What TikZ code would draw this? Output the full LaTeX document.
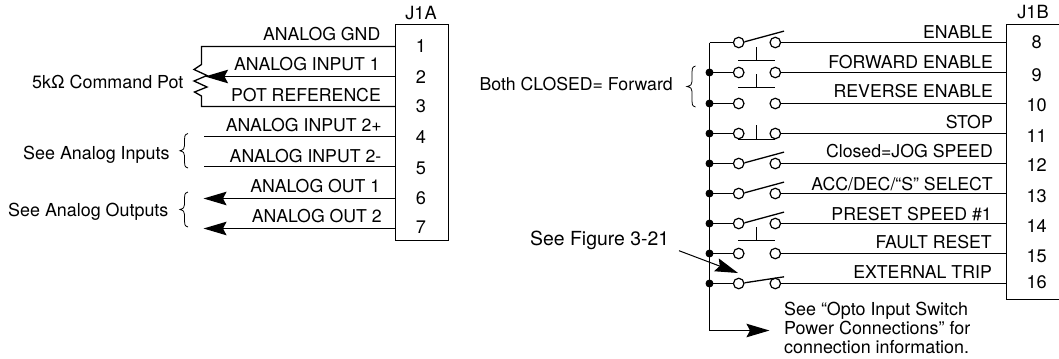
\documentclass[tikz,border=0pt]{standalone}
\usepackage{fontspec}
\setmainfont{TeX Gyre Heros}
\usetikzlibrary{arrows.meta}
\tikzset{
  wire/.style={line width=1.3bp,line cap=butt},
  thin wire/.style={line width=0.8bp},
  lab/.style={anchor=base east,inner sep=0pt,font=\fontsize{17.7bp}{20bp}\selectfont},
  note/.style={anchor=base west,inner sep=0pt,font=\fontsize{17.9bp}{20bp}\selectfont},
  pin/.style={anchor=base,inner sep=0pt,font=\fontsize{18.2bp}{20bp}\selectfont},
  term/.style={circle,draw,fill=white,line width=1.2bp,minimum size=10.5bp,inner sep=0pt},
  dot/.style={circle,fill=black,minimum size=8bp,inner sep=0pt},
  bigarrow/.style={-{Stealth[length=23bp,width=13.5bp,inset=3.5bp]}},
}
\newcommand{\curlybrace}[4]{% tip x, spine x, top y, bottom y
  \pgfmathsetmacro{\ym}{(#3+#4)/2}
  \pgfmathsetmacro{\xe}{#2+3.5}
  \draw[thin wire] (\xe,#3) .. controls (#2,#3+1) and (#2,#3+3) .. (#2,#3+6)
    -- (#2,\ym-5) .. controls (#2,\ym-2) and (#2-1,\ym-1) .. (#1,\ym)
    .. controls (#2-1,\ym+1) and (#2,\ym+2) .. (#2,\ym+5)
    -- (#2,#4-6) .. controls (#2,#4-3) and (#2,#4-1) .. (\xe,#4);
}
\begin{document}
\begin{tikzpicture}[x=1bp,y=-1bp]
\useasboundingbox (0,0) rectangle (1059,358);
% ---- J1A
\node[draw,line width=1.3bp,minimum width=53bp,minimum height=216bp,inner sep=0pt,outer sep=0pt] (boxA) at (422,132.5) {};
\node[pin] (titleA) at (421,19.3) {J1A};
\foreach \n/\y in {1/52.7,2/83,3/112.7,4/143.3,5/174,6/204,7/233}
  \node[pin] (numA\n) at (421,\y) {\n};
\foreach \n/\y in {1/46.5,2/76.5,3/106.5,4/136.5,5/166.5,6/198.5,7/228.5}
  \coordinate (a\n) at (boxA.west |- 0,\y);
\node[lab] (la1) at (380.5,40.7) {ANALOG GND};
\node[lab] (la2) at (380,70.7) {ANALOG INPUT 1};
\node[lab] (la3) at (381,101) {POT REFERENCE};
\node[lab] (la4) at (382,131.7) {ANALOG INPUT 2+};
\node[lab] (la5) at (381.5,162) {ANALOG INPUT 2-};
\node[lab] (la6) at (380.5,192.7) {ANALOG OUT 1};
\node[lab] (la7) at (382,222.7) {ANALOG OUT 2};
% pot
\coordinate (potT) at (201.5,46.5);
\coordinate (potB) at (201.5,106.5);
\coordinate (potW) at (205,76.5);
\draw[wire,line join=miter] (a1) -- (potT) -- (201.5,64.5) -- (194,69.5) -- (207,75.5) -- (194,81) -- (207,87) -- (194.5,92) -- (201.5,96) -- (potB) -- (a3);
\draw[wire,bigarrow] (a2) -- (potW);
\coordinate (e4) at (204,136.5);
\coordinate (e5) at (204,166.5);
\coordinate (e6) at (203.5,198.5);
\coordinate (e7) at (203.5,228.5);
\draw[wire] (a4) -- (e4);
\draw[wire] (a5) -- (e5);
\draw[wire,bigarrow] (a6) -- (e6);
\draw[wire,bigarrow] (a7) -- (e7);
\node[note] (potlab) at (32,88) {5kΩ Command Pot};
\node[note] (inlab) at (23,159) {See Analog Inputs};
\node[note] (outlab) at (8,216) {See Analog Outputs};
\curlybrace{180}{184.5}{133.5}{168}
\curlybrace{180}{184.5}{192}{227}
% ---- J1B
\coordinate (bxTR) at (1059,24.5);
\coordinate (bxTL) at (1006.5,24.5);
\coordinate (bxBL) at (1006.5,299.5);
\coordinate (bxBR) at (1059,299.5);
\draw[wire] (bxTR) -- (bxTL) -- (bxBL) -- (bxBR);
\node[pin] (titleB) at (1033,18.3) {J1B};
\foreach \n/\y in {8/48,9/81.7,10/111.7,11/142,12/171.7,13/202.3,14/232.3,15/262.7,16/288.3}
  \node[pin] (numB\n) at (1036.7,\y) {\n};
% rows
\coordinate (busT) at (709.5,42.5);
\coordinate (busB) at (709.5,330.5);
\coordinate (busE) at (769.5,330.5);
\draw[wire,line join=miter] (busT) -- (busB);
\draw[wire,bigarrow] (busB) -- (busE);
\foreach \n/\y in {8/42.5,9/72.5,10/103.5,11/133.5,12/163.5,13/193.5,14/223.5,15/253.5,16/283.5}{
  \coordinate (b\n) at (709.5,\y);
  \node[term] (l\n) at (738.7,\y) {};
  \node[term] (r\n) at (775.3,\y) {};
  \coordinate (p\n) at (1006.5,\y);
  \draw[wire] (b\n) -- (l\n);
  \draw[wire] (r\n) -- (p\n);
}
\foreach \n in {9,10,11,12,13,14,15,16}
  \node[dot] (d\n) at (b\n) {};
% normally-open levers
\foreach \n in {8,12,13,14}
  \draw[wire] (l\n.east) ++(0,-0.7) -- ++(39.5,-10.7);
\draw[wire] (l16.east) ++(0,-0.7) -- ++(39.5,-6);
% pushbuttons above
\foreach \n/\by/\sy in {9/60.5/47.3,10/87.5/74,15/240.5/226.7}{
  \draw[wire] (738,\by) -- (775,\by);
  \draw[wire] (756.5,\by) -- (756.5,\sy);
}
% stop
\draw[wire] (738,139.5) -- (775,139.5);
\draw[wire] (756.5,139.5) -- (756.5,125.3);
\node[lab] (lb8) at (993,38) {ENABLE};
\node[lab] (lb9) at (993,68) {FORWARD ENABLE};
\node[lab] (lb10) at (993,97.7) {REVERSE ENABLE};
\node[lab] (lb11) at (993,128) {STOP};
\node[lab] (lb12) at (993,157.7) {Closed=JOG SPEED};
\node[lab] (lb13) at (993,190) {ACC/DEC/“S” SELECT};
\node[lab] (lb14) at (992,220) {PRESET SPEED \#1};
\node[lab] (lb15) at (992,248.7) {FAULT RESET};
\node[lab] (lb16) at (992,278.7) {EXTERNAL TRIP};
\node[lab] (both) at (673,90.7) {Both CLOSED= Forward};
\curlybrace{687}{692}{66}{107}
\node[note,font=\fontsize{19.4bp}{22bp}\selectfont] (fig) at (530,245.7) {See Figure 3-21};
\coordinate (figS) at (679,250.7);
\coordinate (figE) at (738,273);
\draw[line width=1bp,bigarrow] (figS) -- (figE);
\node[note] (n1) at (784,315.7) {See “Opto Input Switch};
\node[note] (n2) at (784,334.3) {Power Connections” for};
\node[note] (n3) at (784,353.3) {connection information.};
\end{tikzpicture}
\end{document}
